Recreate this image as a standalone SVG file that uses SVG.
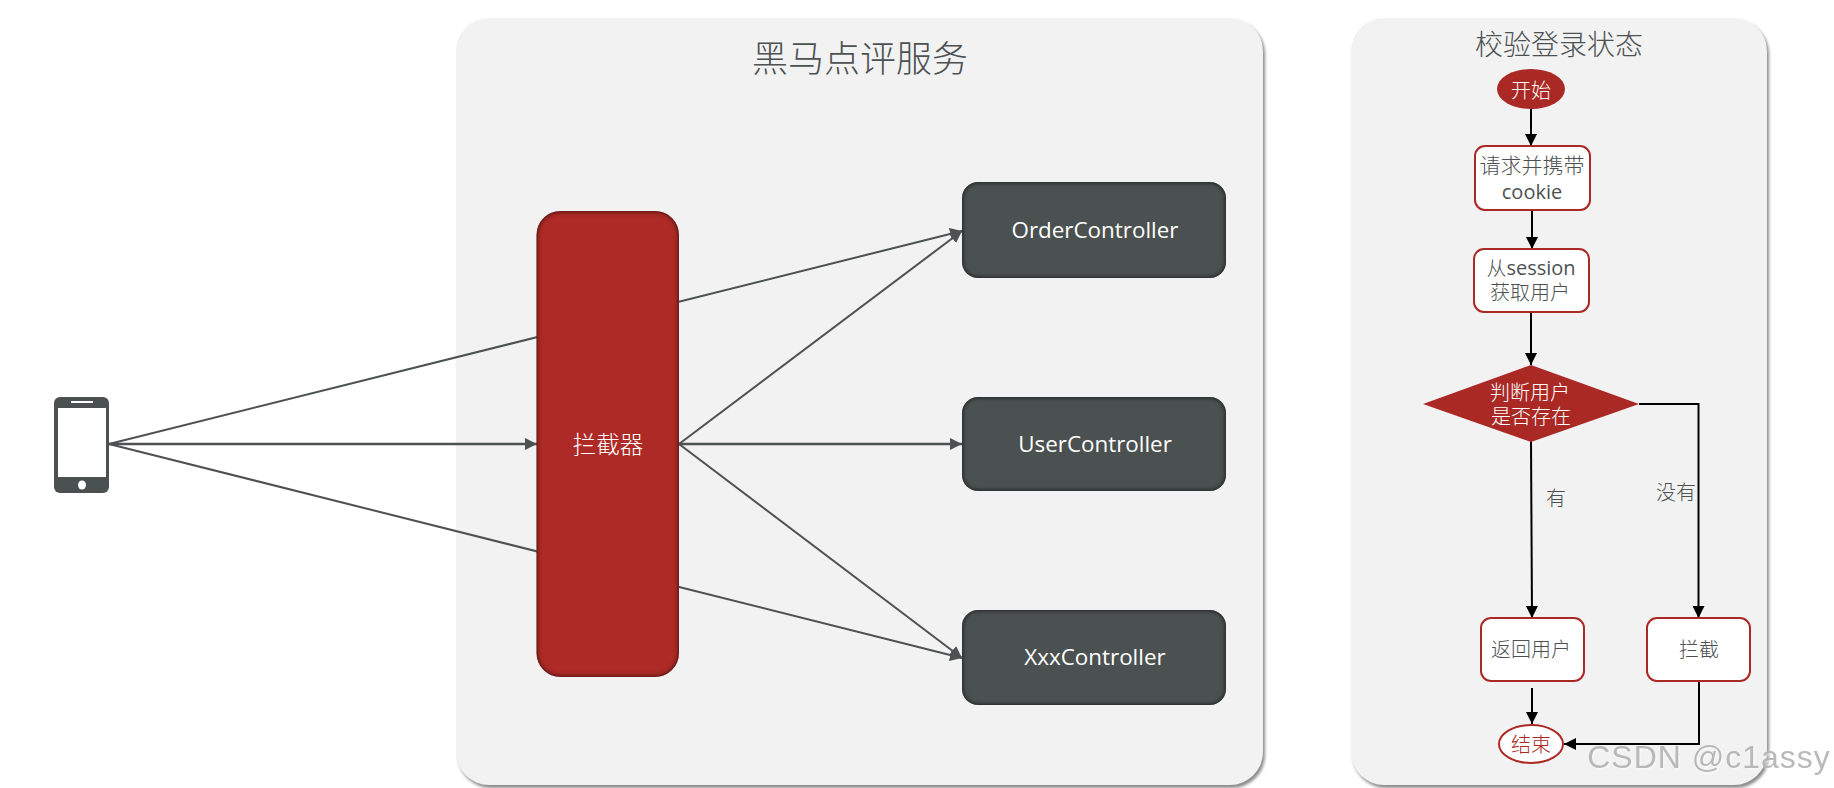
<svg xmlns="http://www.w3.org/2000/svg" width="1834" height="788" viewBox="0 0 1834 788">
<style>
text{font-family:"Noto Sans CJK SC","Open Sans",sans-serif;text-anchor:middle;dominant-baseline:central;fill:#4d5152}
.lat{font-family:"Open Sans","Noto Sans CJK SC",sans-serif}
.w{fill:#fff}
.f20{font-size:20px;font-weight:300}
.f21{font-size:21px;font-weight:300}
.n{font-weight:400;font-family:"Open Sans","Noto Sans CJK SC",sans-serif}
.c{font-size:22.400px}
.panel{fill:#f2f2f2;filter:url(#ps)}
.ctl{fill:#4b5050;filter:url(#inner)}
.box{fill:#fff;stroke:#ab2925;stroke-width:2}
.g{fill:none;stroke:#4d5152;stroke-width:2;marker-end:url(#ag)}
.h{stroke-width:2.400}
.k{fill:none;stroke:#000;stroke-width:2;marker-end:url(#ak)}
</style>
<defs>
<marker id="ag" markerUnits="userSpaceOnUse" markerWidth="13" markerHeight="12" refX="12" refY="6" orient="auto"><path d="M0 0L12 6L0 12Z" fill="#4d5152"/></marker>
<marker id="ak" markerUnits="userSpaceOnUse" markerWidth="13" markerHeight="12" refX="12" refY="6" orient="auto"><path d="M0 0L12 6L0 12Z" fill="#000"/></marker>
<filter id="ps" x="-5%" y="-5%" width="110%" height="110%" color-interpolation-filters="sRGB"><feDropShadow dx="2" dy="3" stdDeviation="1.6" flood-color="#000" flood-opacity=".45"/></filter>
<filter id="inner" x="-10%" y="-10%" width="120%" height="120%" color-interpolation-filters="sRGB">
<feComponentTransfer in="SourceAlpha" result="inv"><feFuncA type="table" tableValues="1 0"/></feComponentTransfer>
<feGaussianBlur in="inv" stdDeviation="2.500" result="b"/>
<feFlood flood-color="#000" flood-opacity=".8"/>
<feComposite in2="b" operator="in" result="s"/>
<feComposite in="s" in2="SourceAlpha" operator="in" result="c"/>
<feMerge><feMergeNode in="SourceGraphic"/><feMergeNode in="c"/></feMerge>
</filter>
<filter id="wm" x="-5%" y="-20%" width="110%" height="140%" color-interpolation-filters="sRGB"><feDropShadow dx="1" dy="1" stdDeviation=".8" flood-color="#fff" flood-opacity=".9"/></filter>
</defs>
<rect width="1834" height="788" fill="#fff"/>
<g id="panel-service"><rect class="panel" x="456" y="18" width="807" height="767" rx="33"/><text x="860" y="56" font-size="36" font-weight="300">黑马点评服务</text></g>
<g id="panel-login"><rect class="panel" x="1351" y="18" width="416" height="767" rx="33"/><text x="1559" y="43" font-size="28" font-weight="300">校验登录状态</text></g>
<g id="connectors">
<path class="g" d="M109 444L962 231"/>
<path class="g h" d="M109 444L537 444"/>
<path class="g" d="M109 444L962 658"/>
<path class="g" d="M679 444L962 231"/>
<path class="g h" d="M679 444L962 444"/>
<path class="g" d="M679 444L962 658"/>
<path class="k" d="M1531 108L1531 146"/>
<path class="k" d="M1532 210L1532 249"/>
<path class="k" d="M1531 312L1531 365"/>
<path class="k" d="M1531 441L1532 618"/>
<path class="k" d="M1639 404L1698.500 404L1698.500 618"/>
<path class="k" d="M1532 688L1532 724"/>
<path class="k" d="M1699 681L1699 744L1564 744"/>
</g>
<g id="phone"><rect x="54" y="397" width="55" height="96" rx="6" fill="#4b5050"/><rect x="58" y="408" width="48" height="69" fill="#fff"/><rect x="71" y="401" width="22" height="2" fill="#fff"/><ellipse cx="82" cy="485" rx="4" ry="4.500" fill="#fff"/></g>
<g id="interceptor"><rect class="ctl" style="fill:#ad2a26" x="536.500" y="211" width="142.500" height="466" rx="24"/><text class="w" x="608" y="443" font-size="23.500" font-weight="300">拦截器</text></g>
<g id="order"><rect class="ctl" x="962" y="182" width="264" height="96" rx="16"/><text class="lat w c" x="1095" y="229">OrderController</text></g>
<g id="user"><rect class="ctl" x="962" y="397" width="264" height="94" rx="16"/><text class="lat w c" x="1095" y="443">UserController</text></g>
<g id="xxx"><rect class="ctl" x="962" y="610" width="264" height="95" rx="16"/><text class="lat w c" x="1095" y="656">XxxController</text></g>
<g id="start"><ellipse cx="1531" cy="89" rx="34" ry="20" fill="#ab2925"/><text class="w f20" x="1531" y="89">开始</text></g>
<g id="req"><rect class="box" x="1475" y="146" width="115" height="64" rx="10"/><text class="f21" x="1532" y="164"><tspan x="1532">请求并携带</tspan><tspan x="1532" dy="27" class="n" font-size="20">cookie</tspan></text></g>
<g id="sess"><rect class="box" x="1474" y="249" width="115" height="63" rx="10"/><text class="f20" x="1531" y="267">从<tspan class="n">session</tspan><tspan x="1530" dy="24">获取用户</tspan></text></g>
<g id="decide"><path d="M1531 365L1639 404L1531 442L1423 404Z" fill="#ab2925"/><text class="w f20" x="1530" y="391">判断用户<tspan x="1531" dy="24">是否存在</tspan></text></g>
<g id="ret"><rect class="box" x="1481" y="618" width="103" height="63" rx="10"/><text class="f20" x="1531" y="648">返回用户</text></g>
<g id="block"><rect class="box" x="1647" y="618" width="103" height="63" rx="10"/><text class="f20" x="1699" y="648">拦截</text></g>
<g id="end"><ellipse cx="1531" cy="744" rx="32" ry="19" fill="#fff" stroke="#ab2925" stroke-width="2"/><text class="f20" style="fill:#ab2925" x="1531" y="743">结束</text></g>
<g id="edge-labels"><text class="f20" x="1556" y="497">有</text><text class="f20" x="1676" y="491">没有</text></g>
<text id="watermark" x="1709" y="757" font-size="32" letter-spacing="1" filter="url(#wm)" style="font-family:'Liberation Sans',sans-serif;fill:#adadad;fill-opacity:.85">CSDN @c1assy</text>
</svg>
